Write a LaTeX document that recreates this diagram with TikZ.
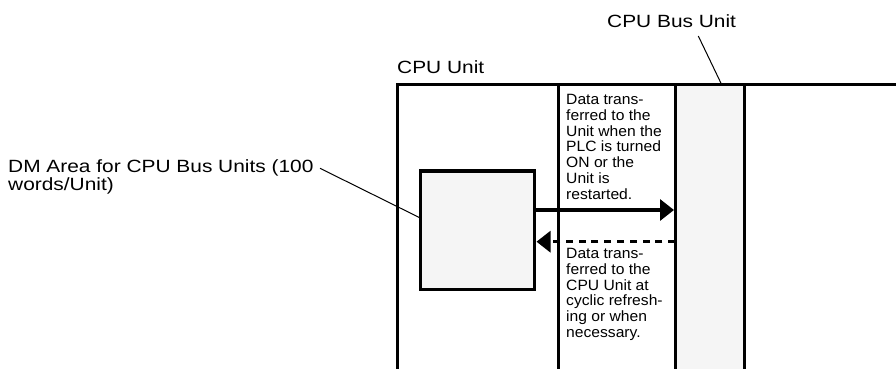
\documentclass[tikz,border=0pt]{standalone}
\usepackage{fontspec}
\setmainfont{Liberation Sans}
\newfontfamily\bigfont[FakeStretch=1.18]{Liberation Sans}
\newfontfamily\smallfont[FakeStretch=1.05]{Liberation Sans}
\usetikzlibrary{arrows.meta}
\definecolor{panel}{HTML}{F5F5F5}
\begin{document}
\begin{tikzpicture}[x=1pt,y=1pt,
  heavy/.style={line width=3.4pt},
  leader/.style={line width=1pt},
  bigtxt/.style={font=\bigfont\fontsize{17.7}{17.5}\selectfont, inner sep=0pt, anchor=base west, align=left},
  smalltxt/.style={font=\smallfont\fontsize{14.9}{15.75}\selectfont, inner sep=0pt, anchor=base west, align=left},
  headtip/.style={-{Triangle[length=14pt,width=21pt]}}]
\useasboundingbox (0,0) rectangle (896,-369);
% coordinates
\coordinate (tl) at (397.3,-84.7);
\coordinate (tr) at (896,-84.7);
\coordinate (bl) at (397.3,-369);
\coordinate (v2t) at (558.7,-84.7);
\coordinate (v2b) at (558.7,-369);
\coordinate (v3t) at (675.2,-84.7);
\coordinate (v3b) at (675.2,-369);
\coordinate (v4t) at (744.7,-84.7);
\coordinate (v4b) at (744.7,-369);
% bus unit panel
\fill[panel] (v3t) rectangle (v4b);
% frame lines
\draw[heavy] (bl) -- (tl) -- (tr);
\draw[heavy] (v2t) -- (v2b);
\draw[heavy] (v3t) -- (v3b);
\draw[heavy] (v4t) -- (v4b);
% DM box
\node[draw, fill=panel, heavy, inner sep=0pt, minimum width=114pt, minimum height=118.3pt] (box) at (477.3,-230.2) {};
% arrows
\coordinate (a1s) at (534.3,-210);
\coordinate (a1e) at (674,-210);
\draw[line width=3.2pt, headtip] (a1s) -- (a1e);
\coordinate (a2s) at (675.2,-241.7);
\coordinate (a2e) at (536.5,-241.7);
\draw[line width=3.2pt, dash pattern=on 7pt off 5.8pt, headtip] (a2s) -- (a2e);
% labels (anchor = baseline of last line)
\node[bigtxt] (cpu) at (397,-74) {CPU Unit};
\node[bigtxt] (bus) at (607,-28) {CPU Bus Unit};
\node[bigtxt] (dm) at (8,-190.2) {DM Area for CPU Bus Units (100\\words/Unit)};
\node[smalltxt] (up) at (566,-199.2) {Data trans-\\ferred to the\\Unit when the\\PLC is turned\\ON or the\\Unit is\\restarted.};
\node[smalltxt] (down) at (566,-337.3) {Data trans-\\ferred to the\\CPU Unit at\\cyclic refresh-\\ing or when\\necessary.};
% leaders
\coordinate (dmstart) at (320,-168.3);
\coordinate (dmend) at (420.3,-218);
\draw[leader] (dmstart) -- (dmend);
\coordinate (busstart) at (698.3,-36);
\coordinate (busend) at (721.7,-84.7);
\draw[leader] (busstart) -- (busend);
\end{tikzpicture}
\end{document}
